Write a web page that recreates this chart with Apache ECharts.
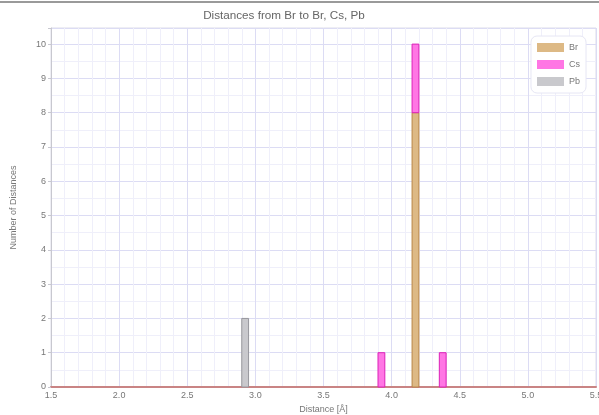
<!DOCTYPE html>
<html>
<head>
<meta charset="utf-8">
<script src="https://cdn.jsdelivr.net/npm/echarts@6/dist/echarts.min.js"></script>
<style>
  html, body { margin: 0; padding: 0; background: #fff; }
  #chart { width: 599px; height: 415px; }
</style>
</head>
<body>
<div id="chart"></div>
<script>
// Histogram of Br neighbour distances, bins of 0.05 Å (bin centres below), stacked Br → Cs → Pb
const binWidth = 0.05;
const brCenters = [4.175];
const brCounts = [8];
const csCenters = [3.925, 4.175, 4.375];
const csCounts = [1, 2, 1];
const pbCenters = [2.925];
const pbCounts = [2];

const xTicks = ['1.5', '2.0', '2.5', '3.0', '3.5', '4.0', '4.5', '5.0', '5.5'];
const yTicks = [0, 1, 2, 3, 4, 5, 6, 7, 8, 9, 10];

const chart = echarts.init(document.getElementById('chart'), null, { renderer: 'canvas' });

// running totals per bin so each series sits on top of the ones before it
const stackBase = new Map();
function stacked(centers, counts) {
  return centers.map((c, i) => {
    const key = c.toFixed(3);
    const base = stackBase.get(key) || 0;
    stackBase.set(key, base + counts[i]);
    return [c - binWidth / 2, c + binWidth / 2, base, base + counts[i]];
  });
}

function renderBin(params, api) {
  const p0 = api.coord([api.value(0), api.value(2)]);
  const p1 = api.coord([api.value(1), api.value(3)]);
  return {
    type: 'rect',
    shape: { x: p0[0], y: p1[1], width: p1[0] - p0[0], height: p0[1] - p1[1] },
    style: api.style()
  };
}

function binSeries(name, data, fill, border) {
  return {
    name: name,
    type: 'custom',
    renderItem: renderBin,
    data: data,
    encode: { x: [0, 1], y: [2, 3] },
    itemStyle: { color: fill, borderColor: border, borderWidth: 1 },
    emphasis: { disabled: true },
    animation: false
  };
}

const gridLeft = 51, gridRight = 3, gridTop = 28, gridBottom = 28;
const xMin = Number(xTicks[0]), xMax = Number(xTicks[xTicks.length - 1]);
const plotW = 599 - gridLeft - gridRight;

const brData = stacked(brCenters, brCounts);
const csData = stacked(csCenters, csCounts);
const pbData = stacked(pbCenters, pbCounts);

chart.setOption({
  animation: false,
  backgroundColor: '#ffffff',
  title: {
    text: 'Distances from Br to Br, Cs, Pb',
    left: 279, top: 5, textAlign: 'center',
    textStyle: { fontFamily: 'Liberation Sans, Arial', fontSize: 11.7, fontWeight: 'normal', color: '#666' }
  },
  graphic: [
    { type: 'line', shape: { x1: 0, y1: 2, x2: 599, y2: 2 }, style: { stroke: '#9a9a9a', lineWidth: 2 } },
    { type: 'rect', shape: { x: gridLeft, y: gridTop, width: plotW, height: 415 - gridTop - gridBottom },
      style: { fill: 'none', stroke: '#dcdce8', lineWidth: 1 }, z: -1 }
  ],
  legend: {
    right: 13, top: 36,
    orient: 'vertical',
    icon: 'rect',
    itemWidth: 27, itemHeight: 9, itemGap: 8,
    padding: [7, 6, 7, 6],
    backgroundColor: '#fff',
    borderColor: '#e6e6f4', borderWidth: 1, borderRadius: 6,
    itemStyle: { borderWidth: 0 },
    textStyle: { fontFamily: 'Liberation Sans, Arial', fontSize: 9, color: '#777', padding: [0, 0, 5, 0] },
    data: ['Br', 'Cs', 'Pb']
  },
  grid: { left: gridLeft, right: gridRight, top: gridTop, bottom: gridBottom, outerBoundsMode: 'none', containLabel: false },
  xAxis: {
    type: 'value', min: xMin, max: xMax, interval: 0.5,
    name: 'Distance [Å]', nameLocation: 'middle', nameGap: 14,
    nameTextStyle: { fontFamily: 'Liberation Sans, Arial', fontSize: 9, color: '#777' },
    axisLine: { show: true, onZero: false, lineStyle: { color: '#c98484', width: 2 } },
    axisTick: { show: false },
    axisLabel: { fontFamily: 'Liberation Sans, Arial', fontSize: 9, color: '#777', margin: 4,
      formatter: v => xTicks.find(t => Math.abs(Number(t) - v) < 1e-6) || '' },
    splitLine: { show: true, lineStyle: { color: '#dcdcf4', width: 1 } },
    minorTick: { show: false, splitNumber: 5 },
    minorSplitLine: { show: true, lineStyle: { color: '#efeffa', width: 1 } }
  },
  yAxis: {
    type: 'value', min: 0, max: 10.47, interval: 1,
    name: 'Number of Distances', nameLocation: 'middle', nameGap: 33, nameRotate: 90,
    nameTextStyle: { fontFamily: 'Liberation Sans, Arial', fontSize: 9, color: '#777' },
    axisLine: { show: true, lineStyle: { color: '#c8c8d0', width: 1 } },
    axisTick: { show: true, length: 3, lineStyle: { color: '#c8c8d0' } },
    axisLabel: { fontFamily: 'Liberation Sans, Arial', fontSize: 9, color: '#777', margin: 5,
      formatter: v => yTicks.includes(v) ? String(v) : '' },
    splitLine: { show: true, lineStyle: { color: '#dcdcf4', width: 1 } },
    minorTick: { show: false, splitNumber: 2 },
    minorSplitLine: { show: true, lineStyle: { color: '#efeffa', width: 1 } }
  },
  series: [
    binSeries('Br', brData, '#ddb985', '#b98646'),
    binSeries('Cs', csData, '#ff76e4', '#dc20b8'),
    binSeries('Pb', pbData, '#c9c9cd', '#97979c')
  ]
});
</script>
</body>
</html>
